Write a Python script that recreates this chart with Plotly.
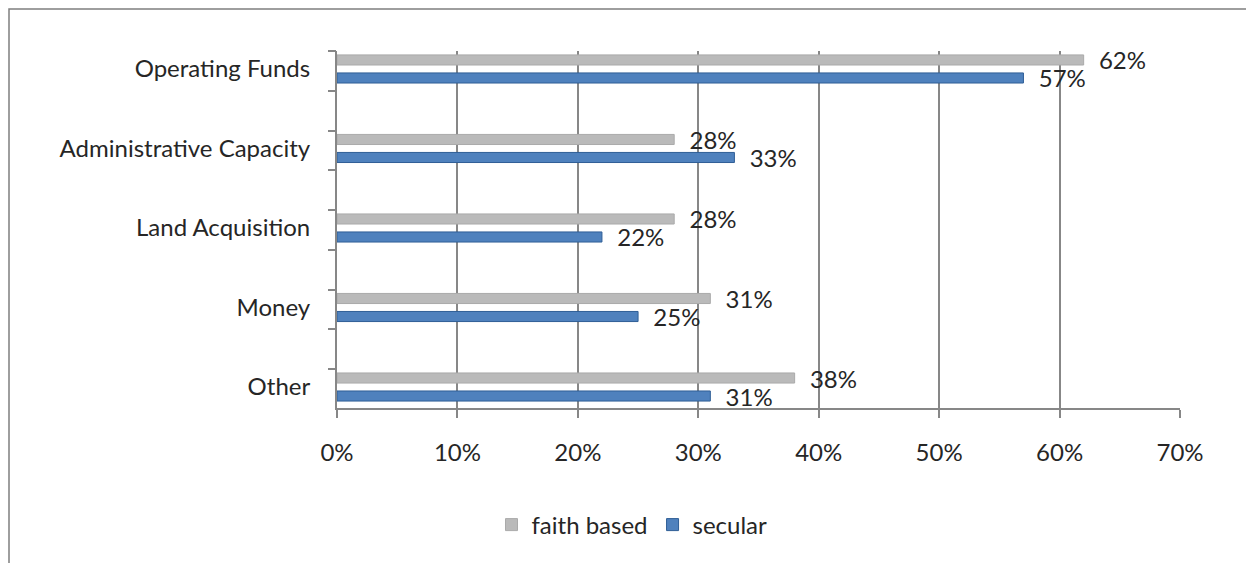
import plotly.graph_objects as go

categories = ["Operating Funds", "Administrative Capacity", "Land Acquisition", "Money", "Other"]
faith_based = [0.62, 0.28, 0.28, 0.31, 0.38]
secular = [0.57, 0.33, 0.22, 0.25, 0.31]
x_ticks = [0, 0.1, 0.2, 0.3, 0.4, 0.5, 0.6, 0.7]
x_tick_labels = ["0%", "10%", "20%", "30%", "40%", "50%", "60%", "70%"]

FONT = "Lato, 'Open Sans', 'DejaVu Sans', sans-serif"
TXT = "#262626"
FS = 24
NB = "\u00a0\u00a0"

fig = go.Figure()
fig.add_trace(go.Bar(
    name="faith based", y=categories, x=faith_based, orientation="h",
    marker=dict(color="#BABABA", line=dict(color="#AAAAAA", width=1)),
    text=[f"{NB}{round(v*100)}%" for v in faith_based], textposition="outside",
    constraintext="none",
    textfont=dict(size=FS, color=TXT, family=FONT), cliponaxis=False,
))
fig.add_trace(go.Bar(
    name="secular", y=categories, x=secular, orientation="h",
    marker=dict(color="#4F81BD", line=dict(color="#2F5E96", width=1)),
    text=[f"{NB}{round(v*100)}%" for v in secular], textposition="outside",
    constraintext="none",
    textfont=dict(size=FS, color=TXT, family=FONT), cliponaxis=False,
))
# empty helper trace so the tick-mark-only overlay axis is drawn
fig.add_trace(go.Scatter(x=[], y=[], yaxis="y2", showlegend=False,
                         hoverinfo="skip", mode="markers"))

# page offset of 8px (body margin) is compensated in these figure coords
W, H = 1254, 563
L, T = 329, 43
PR, PB = 1172, 400
pw, ph = PR - L, PB - T

# category axis range (positions 0..4, reversed)
y_range = [4.264, -0.226]
y_tick_marks = [-0.226 + 0.5 * k for k in range(10)]

fig.update_layout(
    width=W, height=H,
    margin=dict(l=L, r=W - PR, t=T, b=H - PB, autoexpand=False),
    paper_bgcolor="white", plot_bgcolor="white",
    barmode="group", bargap=0.547, bargroupgap=0.44,
    font=dict(family=FONT, size=FS, color=TXT),
    showlegend=True,
    legend=dict(orientation="h", x=(624 - L) / pw, xanchor="center",
                y=(PB - 517) / ph, yanchor="middle",
                font=dict(size=FS, family=FONT, color=TXT),
                traceorder="normal"),
    xaxis=dict(range=[0, 0.7], tickvals=x_ticks, ticktext=x_tick_labels,
               showgrid=True, gridcolor="#878787", gridwidth=2,
               zeroline=False, showline=True, linecolor="#878787", linewidth=2,
               ticks="outside", ticklen=8, tickcolor="#878787", tickwidth=2,
               tickfont=dict(size=FS, family=FONT, color=TXT),
               ticklabelstandoff=14, fixedrange=True),
    yaxis=dict(range=y_range, showgrid=False, showline=True,
               linecolor="#878787", linewidth=2, ticks="",
               tickfont=dict(size=FS, family=FONT, color=TXT),
               ticklabelstandoff=20, fixedrange=True),
    yaxis2=dict(overlaying="y", anchor="x", side="left", range=y_range,
                tickvals=y_tick_marks, ticktext=[""] * len(y_tick_marks),
                showgrid=False, zeroline=False, showline=False,
                ticks="outside", ticklen=8, tickcolor="#878787", tickwidth=2,
                fixedrange=True),
    shapes=[dict(type="rect", xref="paper", yref="paper",
                 x0=(1 - L) / pw, x1=(1240 - L) / pw,
                 y0=(PB - 600) / ph, y1=(PB - 1) / ph,
                 line=dict(color="#7F7F7F", width=1.5), fillcolor="rgba(0,0,0,0)",
                 layer="below")],
)

fig.write_html("out.html")
